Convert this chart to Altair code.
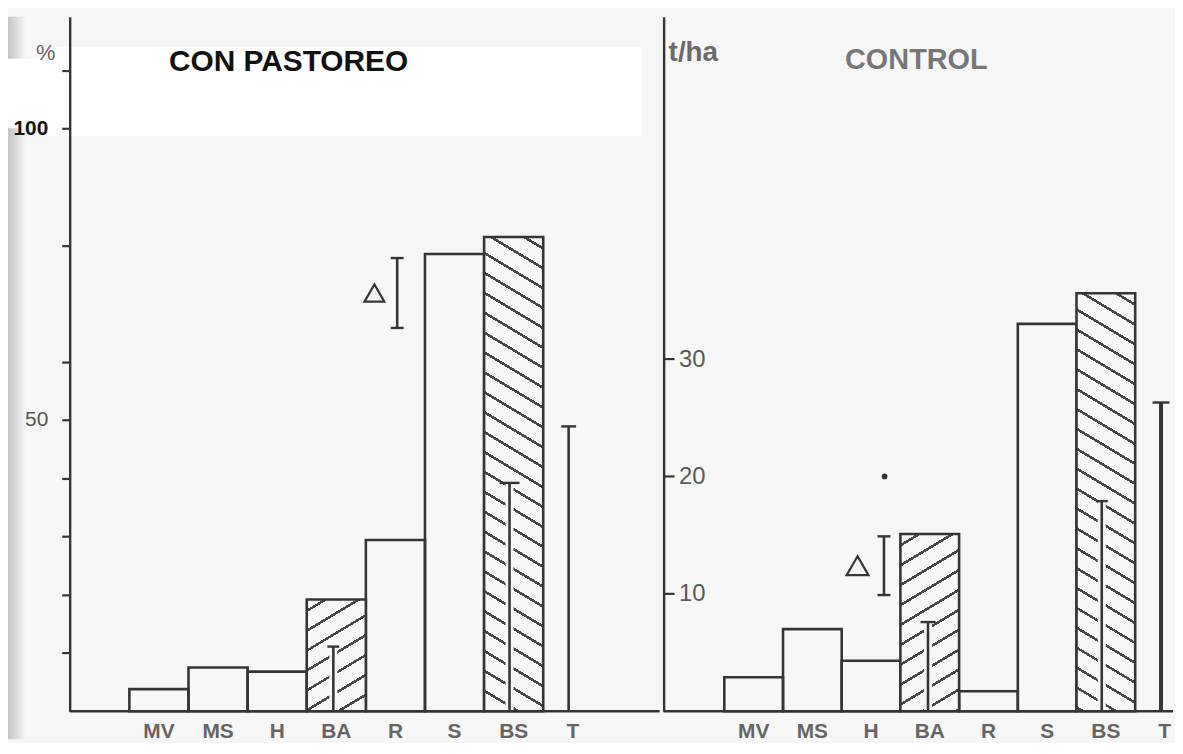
import altair as alt
import pandas as pd

# ---------------- data ----------------
CATS = ["MV", "MS", "H", "BA", "R", "S", "BS", "T"]

LEFT_BAR_CATS = ["MV", "MS", "H", "BA", "R", "S", "BS"]
LEFT_BAR_VALUES = [3.8, 7.5, 6.8, 19.2, 29.4, 78.5, 81.4]
LEFT_LINE_CATS = ["BA", "BS", "T"]
LEFT_LINE_VALUES = [11.1, 39.2, 48.9]
LEFT_DELTA_CAT = "R"
LEFT_DELTA_RANGE = [65.8, 77.8]
LEFT_Y_TICKS = [10, 20, 30, 40, 50, 60, 80, 100, 110]
LEFT_Y_LABELED = [50, 100]

RIGHT_BAR_CATS = ["MV", "MS", "H", "BA", "R", "S", "BS"]
RIGHT_BAR_VALUES = [2.9, 7.0, 4.3, 15.1, 1.7, 33.0, 35.6]
RIGHT_LINE_CATS = ["BA", "BS", "T"]
RIGHT_LINE_VALUES = [7.6, 17.9, 26.3]
RIGHT_DELTA_CAT = "H"
RIGHT_DELTA_RANGE = [9.9, 14.9]
RIGHT_DOT_CAT = "H"
RIGHT_DOT_VALUE = 20.0
RIGHT_Y_TICKS = [10, 20, 30]

HATCHED = {"BA": "/", "BS": "\\"}

# ---------------- style ----------------
FONT = "Liberation Sans"
BG = "#f7f7f7"
INK = "#353535"
HATCH_INK = "#484848"
H = 698
ONE = pd.DataFrame({"k": [0]})
CAP_SHAPE = "M-1,0L1,0"


def hatch_fill(w, h, direction, slope=0.6, spacing=20.0, thick=3.0):
    L = slope * w + h
    D = (slope * w) ** 2 + h ** 2
    dgx = slope * w * L / D
    dgy = h * L / D
    if direction == "/":
        x1, y1, x2, y2 = 0, 0, dgx, dgy
    else:
        x1, y1, x2, y2 = 1, 0, 1 - dgx, dgy
    P = spacing / L
    d = thick / L
    stops = [{"offset": 0, "color": BG}]
    k = 0
    while True:
        a = k * P + P * 0.5
        if a + d >= 1:
            break
        a_r, b_r = round(a, 6), round(a + d, 6)
        stops += [
            {"offset": a_r, "color": BG},
            {"offset": a_r, "color": HATCH_INK},
            {"offset": b_r, "color": HATCH_INK},
            {"offset": b_r, "color": BG},
        ]
        k += 1
    stops.append({"offset": 1, "color": BG})
    return {"gradient": "linear", "x1": x1, "y1": y1, "x2": x2, "y2": y2, "stops": stops}


X_AXIS = alt.Axis(domain=False, ticks=False, labelPadding=9, labelFontSize=21,
                  labelFont=FONT, labelFontWeight="bold", labelColor="#656565",
                  labelAngle=0, title=None, zindex=1)

label_test = " || ".join(f"datum.value == {v}" for v in LEFT_Y_LABELED)
LEFT_Y_AXIS = alt.Axis(values=LEFT_Y_TICKS, tickSize=8, tickWidth=2.2, tickColor=INK,
                       domainColor=INK, domainWidth=2.4, grid=False,
                       labelExpr=f"({label_test}) ? datum.label : ''",
                       labelFontSize=21, labelFont=FONT, labelPadding=14,
                       labelOverlap=False,
                       labelColor={"condition": {"test": "datum.value == 100", "value": "#111111"}, "value": "#555555"},
                       labelFontWeight={"condition": {"test": "datum.value == 100", "value": "bold"}, "value": "normal"},
                       minExtent=62, maxExtent=62, title=None, zindex=1)

RIGHT_Y_AXIS = alt.Axis(values=RIGHT_Y_TICKS, ticks=False, domainColor=INK, domainWidth=2.4,
                        grid=False, labelAlign="left", labelBaseline="middle",
                        labelPadding=-15, labelFontSize=24, labelFont=FONT,
                        labelColor="#5a5a5a", labelOverlap=False,
                        minExtent=0, maxExtent=0, title=None, zindex=1)


def build_panel(W, rng, ymax, yaxis, bar_cats, bar_vals, line_cats, line_vals,
                line_pos, line_caps, line_widths, halo, delta_cat, delta_rng,
                delta_pos, tri_pos, tri_size):
    bw = (rng[1] - rng[0]) / len(CATS)
    ppu = H / ymax

    def X(bp=None):
        kw = dict(scale=alt.Scale(domain=CATS, range=rng, paddingInner=0, paddingOuter=0),
                  axis=X_AXIS, title=None)
        if bp is not None:
            kw["bandPosition"] = bp
        return alt.X("cat:N", **kw)

    def Y(field):
        return alt.Y(f"{field}:Q", scale=alt.Scale(domain=[0, ymax], nice=False, zero=True),
                     axis=yaxis, title=None)

    def cap(df, bp, field, width, sw=2.4):
        return (alt.Chart(df).mark_point(shape=CAP_SHAPE, filled=False, stroke=INK,
                                         strokeWidth=sw, size=width * width, opacity=1)
                .encode(x=X(bp), y=Y(field)))

    layers = []
    bars = pd.DataFrame({"cat": bar_cats, "v": bar_vals})
    plain = bars[~bars["cat"].isin(list(HATCHED))]
    layers.append(alt.Chart(plain).mark_bar(fill="transparent", stroke=INK, strokeWidth=2.6)
                  .encode(x=X(), y=Y("v")))
    for c, direction in HATCHED.items():
        row = bars[bars["cat"] == c]
        if row.empty:
            continue
        h = float(row["v"].iloc[0]) * ppu
        layers.append(alt.Chart(row).mark_bar(fill=hatch_fill(bw, h, direction), stroke=INK,
                                              strokeWidth=2.6)
                      .encode(x=X(), y=Y("v")))

    lines = pd.DataFrame({"cat": line_cats, "top": line_vals})
    for i, c in enumerate(line_cats):
        row = lines[lines["cat"] == c]
        if halo[i]:
            layers.append(alt.Chart(row).mark_rule(stroke=BG, strokeWidth=8)
                          .encode(x=X(line_pos[i]), y=Y("top"), y2=alt.datum(0)))
        layers.append(alt.Chart(row).mark_rule(stroke=INK, strokeWidth=line_widths[i])
                      .encode(x=X(line_pos[i]), y=Y("top"), y2=alt.datum(0)))
        layers.append(cap(row, line_pos[i], "top", line_caps[i]))

    d = pd.DataFrame({"cat": [delta_cat], "lo": [delta_rng[0]], "hi": [delta_rng[1]],
                      "mid": [(delta_rng[0] + delta_rng[1]) / 2]})
    layers.append(alt.Chart(d).mark_rule(stroke=INK, strokeWidth=2.6)
                  .encode(x=X(delta_pos), y=Y("hi"), y2="lo:Q"))
    for f in ["hi", "lo"]:
        layers.append(cap(d, delta_pos, f, 13))
    layers.append(alt.Chart(d).mark_point(shape="triangle-up", filled=False, stroke=INK,
                                          strokeWidth=2.2, size=tri_size, opacity=1)
                  .encode(x=X(tri_pos), y=Y("mid")))

    layers.append(alt.Chart(ONE).mark_rule(stroke=INK, strokeWidth=2.4)
                  .encode(y=alt.datum(0), x=alt.value(0), x2=alt.value(W)))
    return layers, X, Y


# ---------------- left panel ----------------
LW = 593
L_RNG = [60, 535.4]
L_YMAX = 119.2
left_layers, LX, LY = build_panel(
    LW, L_RNG, L_YMAX, LEFT_Y_AXIS, LEFT_BAR_CATS, LEFT_BAR_VALUES,
    LEFT_LINE_CATS, LEFT_LINE_VALUES, [0.45, 0.43, 0.43], [12, 20, 15],
    [2.6, 2.6, 2.6], [True, True, False], LEFT_DELTA_CAT, LEFT_DELTA_RANGE,
    0.53, 0.145, 400)

strip = alt.Chart(ONE).mark_rect(fill={
    "gradient": "linear", "x1": 0, "y1": 0, "x2": 1, "y2": 0,
    "stops": [{"offset": 0, "color": "#c4c4c4"}, {"offset": 1, "color": BG}]}).encode(
    x=alt.value(-62), x2=alt.value(-44), y=alt.value(0), y2=alt.value(H + 28))
patch = alt.Chart(ONE).mark_rect(fill="white").encode(
    x=alt.value(-22), x2=alt.value(575), y=alt.value(30), y2=alt.value(120))
patch2 = alt.Chart(ONE).mark_rect(fill="white").encode(
    x=alt.value(-62), x2=alt.value(-22), y=alt.value(42), y2=alt.value(112))
title_l = alt.Chart(ONE).mark_text(text="CON PASTOREO", font=FONT, fontSize=30,
                                   fontWeight="bold", color="#111111").encode(
    x=alt.value(220), y=alt.value(45))
pct = alt.Chart(ONE).mark_text(text="%", font=FONT, fontSize=22, color="#666666").encode(
    x=alt.value(-24), y=alt.value(36))

left = alt.layer(strip, patch, patch2, *left_layers, title_l, pct).properties(width=LW, height=H)

# ---------------- right panel ----------------
RW = 512
R_RNG = [61, 533]
R_YMAX = 59.15
right_layers, RX, RY = build_panel(
    RW, R_RNG, R_YMAX, RIGHT_Y_AXIS, RIGHT_BAR_CATS, RIGHT_BAR_VALUES,
    RIGHT_LINE_CATS, RIGHT_LINE_VALUES, [0.47, 0.43, 0.44], [15, 12, 17],
    [2.6, 2.6, 4], [True, True, False], RIGHT_DELTA_CAT, RIGHT_DELTA_RANGE,
    0.72, 0.27, 480)

ticks_r = alt.Chart(pd.DataFrame({"v": RIGHT_Y_TICKS})).mark_rule(stroke=INK, strokeWidth=2.2).encode(
    x=alt.value(0), x2=alt.value(11), y=RY("v"))
dot = alt.Chart(pd.DataFrame({"cat": [RIGHT_DOT_CAT], "v": [RIGHT_DOT_VALUE]})).mark_point(
    filled=True, size=34, color="#333333", opacity=1).encode(x=RX(0.73), y=RY("v"))
title_r = alt.Chart(ONE).mark_text(text="CONTROL", font=FONT, fontSize=29,
                                   fontWeight="bold", color="#777777").encode(
    x=alt.value(254), y=alt.value(43))
tha = alt.Chart(ONE).mark_text(text="t/ha", font=FONT, fontSize=28, fontWeight="bold",
                               color="#6a6a6a", align="left").encode(
    x=alt.value(5), y=alt.value(36))

right = alt.layer(*right_layers, ticks_r, dot, title_r, tha).properties(width=RW, height=H)

chart = alt.hconcat(left, right, spacing=0).properties(
    padding={"left": 0, "right": 0, "top": 7, "bottom": 0},
    background=BG,
).configure_view(stroke=None)

chart.save("out.html", embed_options={"renderer": "svg", "actions": False})
